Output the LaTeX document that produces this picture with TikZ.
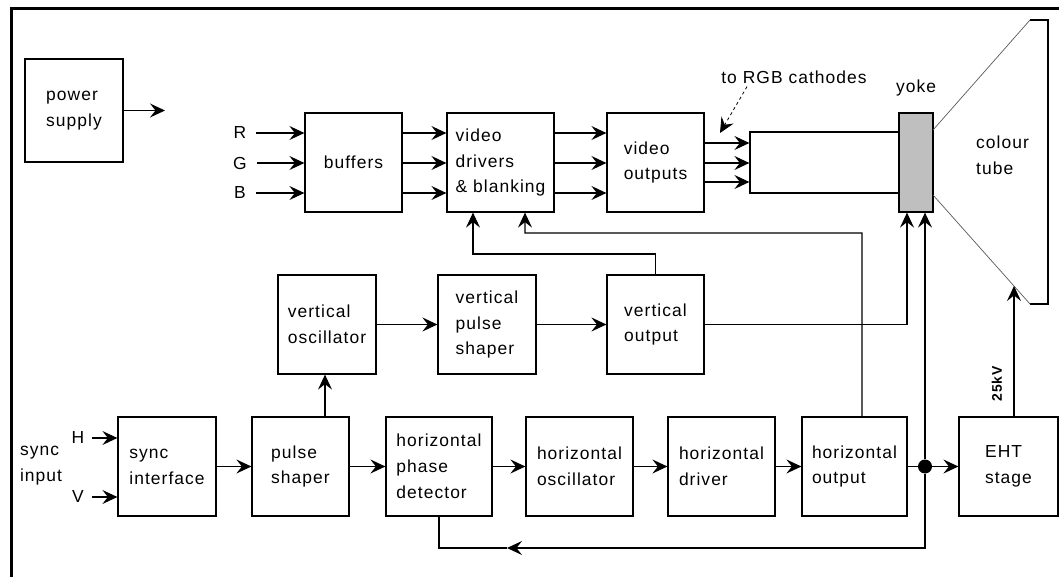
\documentclass[tikz,border=0pt]{standalone}
\usepackage{fontspec}
\setmainfont{Liberation Sans}[LetterSpace=6]
\usetikzlibrary{arrows.meta}
\begin{document}
\begin{tikzpicture}[x=1bp,y=-1bp,
  txt/.style={font=\fontsize{17.5}{26}\selectfont},
  blk/.style={draw, line width=1.2bp, minimum height=99bp, align=left, inner sep=0pt, txt},
  lbl/.style={inner sep=0pt, align=left, txt},
  wire/.style={line width=1.2bp},
  arr/.style={wire, -{Stealth[length=15bp,width=14bp,inset=5.5bp]}},
  tubeline/.style={line width=0.7bp, black!65},
]
\path[use as bounding box] (0,0) rectangle (1059,577);
% frame
\draw[line width=3bp] (11,577) -- (11,9) -- (1059,9);

% top row
\node[blk, minimum width=98bp, minimum height=103bp] (ps) at (74,110.5) {power\\supply};
\coordinate (psout) at (165,110.5);
\draw[arr] (ps) -- (psout);

\node[blk, minimum width=97bp] (buf) at (353.5,162.5) {buffers};
\node[blk, minimum width=107bp] (vdr) at (500.5,162.5) {video\\drivers\\\& blanking};
\node[blk, minimum width=97bp] (vout) at (655.5,162.5) {video\\outputs};
\node[draw, wire, minimum width=149bp, minimum height=61bp, inner sep=0pt] (neck) at (824.5,162.5) {};
\node[draw, wire, fill=black!25, minimum width=34bp, minimum height=99bp, inner sep=0pt] (yoke) at (916,162.5) {};
\node[lbl] (yokel) at (916,88) {yoke};

\node[lbl] (R) at (240,133) {R};
\node[lbl] (G) at (240,163) {G};
\node[lbl] (B) at (240,193) {B};
\foreach \c in {R,G,B} {
  \draw[arr] ([xshift=10bp]\c.east) -- (buf.west |- \c);
  \draw[arr] (buf.east |- \c) -- (vdr.west |- \c);
  \draw[arr] (vdr.east |- \c) -- (vout.west |- \c);
}
\coordinate (o1) at (0,143);
\coordinate (o2) at (0,163);
\coordinate (o3) at (0,182);
\foreach \c in {o1,o2,o3} {
  \draw[arr] (vout.east |- \c) -- (neck.west |- \c);
}

\node[lbl] (rgb) at (794,77) {to RGB cathodes};
\coordinate (rgbt) at (720,133);
\draw[arr, dashed, line width=0.8bp] ([xshift=-47bp,yshift=-3bp]rgb.south) -- (rgbt);

% colour tube
\coordinate (t1) at (933,130);
\coordinate (t2) at (1030,20);
\coordinate (t3) at (1048,20);
\coordinate (t4) at (1048,304);
\coordinate (t5) at (1030,304);
\coordinate (t6) at (933,195);
\draw[tubeline] (t1) -- (t2);
\draw[wire] (t2) -- (t3) -- (t4) -- (t5);
\draw[tubeline] (t5) -- (t6);
\node[lbl, anchor=west] (ct) at (976,155) {colour\\tube};

% middle row
\node[blk, minimum width=98bp] (vosc) at (327,324.5) {vertical\\oscillator};
\node[blk, minimum width=98bp] (vps) at (487,324.5) {vertical\\pulse\\shaper};
\node[blk, minimum width=97bp] (vo) at (655.5,324.5) {vertical\\output};
\draw[arr] (vosc) -- (vps);
\draw[arr] (vps) -- (vo);

% bottom row
\node[blk, minimum width=98bp] (si) at (167,466.5) {sync\\interface};
\node[blk, minimum width=97bp] (psh) at (300.5,466.5) {pulse\\shaper};
\node[blk, minimum width=106bp] (hpd) at (439,466.5) {horizontal\\phase\\detector};
\node[blk, minimum width=107bp] (hosc) at (579.5,466.5) {horizontal\\oscillator};
\node[blk, minimum width=107bp] (hdrv) at (721.5,466.5) {horizontal\\driver};
\node[blk, minimum width=105bp] (hout) at (854.5,466.5) {horizontal\\output};
\node[blk, minimum width=99bp] (eht) at (1008.5,466.5) {EHT\\stage};
\node[circle, fill, inner sep=0pt, minimum size=14bp] (dot) at (925,466.5) {};

\node[lbl] (H) at (78,438) {H};
\node[lbl] (V) at (78,497) {V};
\node[lbl] (sync) at (41,466) {sync\\input};
\draw[arr] ([xshift=8bp]H.east) -- (si.west |- H);
\draw[arr] ([xshift=8bp]V.east) -- (si.west |- V);

\draw[arr] (si) -- (psh);
\draw[arr] (psh) -- (hpd);
\draw[arr] (hpd) -- (hosc);
\draw[arr] (hosc) -- (hdrv);
\draw[arr] (hdrv) -- (hout);
\draw[wire] (hout) -- (dot);
\draw[arr] (dot) -- (eht);
\draw[arr] ([xshift=24.5bp]psh.north) -- ([xshift=24.5bp]psh.north |- vosc.south);

% feedback / control lines
\coordinate (c1) at (655.5,254);
\draw[arr] (vo.north) -- (c1) -| ([xshift=-27.5bp]vdr.south);
\coordinate (c2) at (525,233);
\draw[arr] ([xshift=7.5bp]hout.north) |- (c2) -- ([xshift=24.5bp]vdr.south);
\draw[arr] (vo.east) -| ([xshift=-9bp]yoke.south);
\draw[arr] (dot) -- (dot |- yoke.south);
\coordinate (fb1) at (925,548);
\coordinate (fb2) at (507,548);
\draw[arr] (dot) -- (fb1) -- (fb2);
\draw[wire] (fb2) -| (hpd.south);

% EHT to tube
\coordinate (tubeb) at (1014,286);
\draw[arr] (eht.north -| tubeb) -- (tubeb);
\node[rotate=90, inner sep=0pt, font=\bfseries\fontsize{14}{14}\selectfont] (kv) at (997,384) {25kV};
\end{tikzpicture}
\end{document}
